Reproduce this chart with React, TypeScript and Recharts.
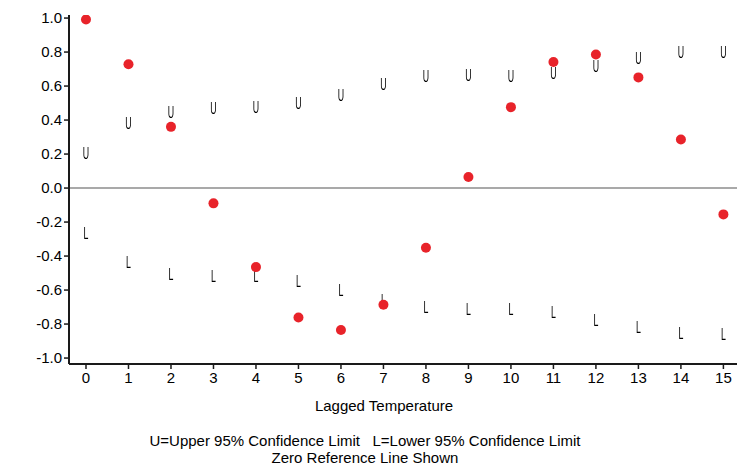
import React from 'react';
import {
  ComposedChart,
  Scatter,
  XAxis,
  YAxis,
  ReferenceLine,
} from 'recharts';

// lag number on the x axis
const lags = [0, 1, 2, 3, 4, 5, 6, 7, 8, 9, 10, 11, 12, 13, 14, 15];

// cross correlation (red dots)
const correlation = [
  0.992, 0.728, 0.36, -0.09, -0.465, -0.761, -0.835, -0.686, -0.351, 0.065,
  0.476, 0.741, 0.786, 0.651, 0.286, -0.155,
];

// upper 95% confidence limit (U)
const upperLimit = [
  0.208, 0.384, 0.449, 0.469, 0.476, 0.5, 0.547, 0.61, 0.66, 0.665, 0.66,
  0.678, 0.72, 0.767, 0.798, 0.8,
];

// lower 95% confidence limit (L)
const lowerLimit = [
  -0.263, -0.437, -0.506, -0.52, -0.52, -0.545, -0.6, -0.66, -0.7, -0.71,
  -0.71, -0.73, -0.776, -0.82, -0.85, -0.857,
];

const xTicks = lags;
const yTicks = [-1.0, -0.8, -0.6, -0.4, -0.2, 0.0, 0.2, 0.4, 0.6, 0.8, 1.0];

const xMinor: number[] = [];
for (let i = -2; i <= 76; i++) xMinor.push(Math.round(i * 20) / 100);
const yMinor: number[] = [];
for (let i = -20; i <= 20; i++) yMinor.push(Math.round(i * 5) / 100);

const data = lags.map((lag, i) => ({
  lag,
  corr: correlation[i],
  upper: upperLimit[i],
  lower: lowerLimit[i],
}));

const FONT = '"Liberation Sans", Arial, sans-serif';
const AXIS = '#1a1a1a';

// SAS-style plot symbol: a tall narrow letter
const letterShape = (letter: string) => (props: any) => {
  const { cx, cy } = props;
  if (cx == null || cy == null) return <g />;
  return (
    <g transform={`translate(${cx},${cy}) scale(0.55,1)`} style={{ filter: 'grayscale(1)' }}>
      <text x={0} y={6} textAnchor="middle" fontSize={16} fontFamily={FONT} fill="#000">
        {letter}
      </text>
    </g>
  );
};

const dotShape = (props: any) => {
  const { cx, cy } = props;
  if (cx == null || cy == null) return <g />;
  return <circle cx={cx} cy={cy} r={5} fill="#E8232A" />;
};

const noLabel = () => <g />;

export default function App() {
  return (
    <div style={{ position: 'absolute', left: 0, top: 0, width: 737, height: 466, background: '#fff', fontFamily: FONT }}>
      <ComposedChart
        width={737}
        height={466}
        data={data}
        margin={{ top: 15, right: 0, bottom: 72, left: 9 }}
      >
        {/* minor ticks first so they sit on the plot edge */}
        <XAxis
          xAxisId="minor"
          dataKey="lag"
          type="number"
          domain={[-0.4, 15.32]}
          allowDataOverflow
          ticks={xMinor}
          interval={0}
          height={0}
          axisLine={false}
          tickSize={3}
          tickLine={{ stroke: AXIS, strokeWidth: 1 }}
          tick={noLabel}
        />
        <XAxis
          xAxisId="main"
          dataKey="lag"
          type="number"
          domain={[-0.4, 15.32]}
          allowDataOverflow
          ticks={xTicks}
          interval={0}
          height={30}
          tickSize={5}
          tickMargin={3}
          axisLine={{ stroke: AXIS, strokeWidth: 2 }}
          tickLine={{ stroke: AXIS, strokeWidth: 1.5 }}
          tick={{ fill: '#000', fontSize: 15, fontFamily: FONT }}
        />
        <XAxis
          xAxisId="top"
          orientation="top"
          type="number"
          domain={[-0.4, 15.32]}
          allowDataOverflow
          height={0}
          tick={false}
          tickLine={false}
          axisLine={{ stroke: AXIS, strokeWidth: 2 }}
        />
        <YAxis
          yAxisId="minor"
          type="number"
          domain={[-1.035, 1.018]}
          allowDataOverflow
          ticks={yMinor}
          interval={0}
          width={0}
          axisLine={false}
          tickSize={3}
          tickLine={{ stroke: AXIS, strokeWidth: 1 }}
          tick={noLabel}
        />
        <YAxis
          yAxisId="main"
          type="number"
          domain={[-1.035, 1.018]}
          allowDataOverflow
          ticks={yTicks}
          interval={0}
          width={60}
          tickSize={5}
          tickMargin={2}
          axisLine={{ stroke: AXIS, strokeWidth: 2 }}
          tickLine={{ stroke: AXIS, strokeWidth: 1.5 }}
          tick={{ fill: '#000', fontSize: 15, fontFamily: FONT }}
          tickFormatter={(v: number) => v.toFixed(1)}
        />
        <ReferenceLine xAxisId="main" yAxisId="main" y={0} stroke="#8c8c8c" strokeWidth={1.5} />
        <Scatter xAxisId="main" yAxisId="main" dataKey="upper" shape={letterShape('U')} isAnimationActive={false} />
        <Scatter xAxisId="main" yAxisId="main" dataKey="lower" shape={letterShape('L')} isAnimationActive={false} />
        <Scatter xAxisId="main" yAxisId="main" dataKey="corr" shape={dotShape} isAnimationActive={false} />
      </ComposedChart>
      <div style={{ position: 'absolute', left: 284, width: 200, top: 397, textAlign: 'center', fontSize: 15, color: '#000' }}>
        Lagged Temperature
      </div>
      <div style={{ position: 'absolute', left: 65, width: 600, top: 432, textAlign: 'center', fontSize: 15, lineHeight: '17px', color: '#000', whiteSpace: 'pre' }}>
        {'U=Upper 95% Confidence Limit   L=Lower 95% Confidence Limit\nZero Reference Line Shown'}
      </div>
    </div>
  );
}
